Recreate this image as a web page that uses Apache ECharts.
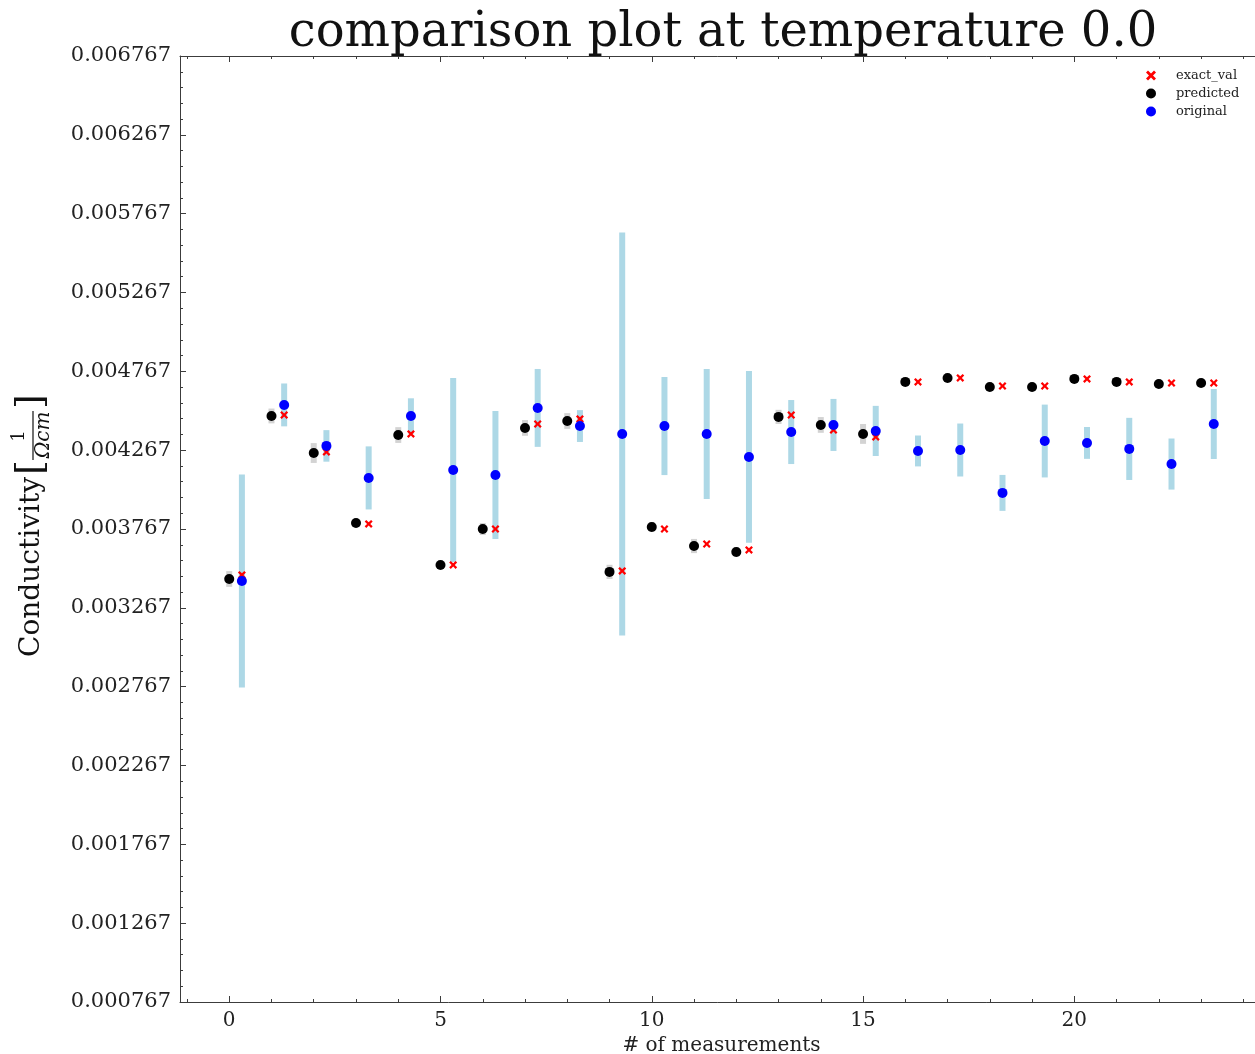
<!DOCTYPE html>
<html>
<head>
<meta charset="utf-8">
<script src="https://cdn.jsdelivr.net/npm/echarts@6/dist/echarts.min.js"></script>
<style>
  html, body { margin: 0; padding: 0; background: #fff; overflow: hidden; }
  #chart { width: 1255px; height: 1054px; }
</style>
</head>
<body>
<div id="chart"></div>
<script>
// measurement index 0..23
const measurements = [0, 1, 2, 3, 4, 5, 6, 7, 8, 9, 10, 11, 12, 13, 14, 15, 16, 17, 18, 19, 20, 21, 22, 23]

const predicted = [0.003450, 0.004484, 0.004249, 0.003805, 0.004363, 0.003539, 0.003767, 0.004408,
  0.004452, 0.003495, 0.003780, 0.003659, 0.003621, 0.004478, 0.004427, 0.004370,
  0.004700, 0.004725, 0.004668, 0.004668, 0.004719, 0.004700, 0.004687, 0.004693]
const predictedErr = [0.000050, 0.000047, 0.000063, 0.000025, 0.000050, 0.000025, 0.000038, 0.000050,
  0.000050, 0.000045, 0.000030, 0.000045, 0.000030, 0.000045, 0.000050, 0.000063,
  0.000020, 0.000020, 0.000020, 0.000020, 0.000020, 0.000020, 0.000020, 0.000020]

const exactVal = [0.003476, 0.004490, 0.004256, 0.003799, 0.004370, 0.003539, 0.003767, 0.004433,
  0.004465, 0.003501, 0.003767, 0.003672, 0.003634, 0.004490, 0.004395, 0.004351,
  0.004700, 0.004725, 0.004674, 0.004674, 0.004719, 0.004700, 0.004693, 0.004693]

const original = [0.003437, 0.004554, 0.004294, 0.004091, 0.004484, 0.004141, 0.004110, 0.004535,
  0.004420, 0.004370, 0.004420, 0.004370, 0.004224, 0.004382, 0.004427, 0.004389,
  0.004262, 0.004268, 0.003996, 0.004325, 0.004313, 0.004275, 0.004179, 0.004433]
const originalErr = [0.000676, 0.000136, 0.000100, 0.000200, 0.000112, 0.000584, 0.000406, 0.000247,
  0.000101, 0.001278, 0.000311, 0.000412, 0.000545, 0.000203, 0.000165, 0.000159,
  0.000098, 0.000168, 0.000114, 0.000231, 0.000101, 0.000197, 0.000162, 0.000222]

const xMajorTicks = [0, 5, 10, 15, 20]
const xMinorTicks = [-1, 1, 2, 3, 4, 6, 7, 8, 9, 11, 12, 13, 14, 16, 17, 18, 19, 21, 22, 23, 24]

const SHIFT = 0.3   // original / exact_val are drawn a bit right of predicted
const FONT = 'DejaVu Serif'
const AXIS_COLOR = '#3c3c3c'

const chart = echarts.init(document.getElementById('chart'))

function errBar(color, width) {
  return function (params, api) {
    const x = api.value(0)
    const top = api.coord([x, api.value(2)])
    const bottom = api.coord([x, api.value(1)])
    return {
      type: 'rect',
      shape: { x: top[0] - width / 2, y: top[1], width: width, height: bottom[1] - top[1] },
      style: { fill: color },
    }
  }
}

const predBars = measurements.map((m, i) => [m, predicted[i] - predictedErr[i], predicted[i] + predictedErr[i]])
const origBars = measurements.map((m, i) => [m + SHIFT, original[i] - originalErr[i], original[i] + originalErr[i]])

const crossPath = 'path://M2,0L5,3L8,0L10,2L7,5L10,8L8,10L5,7L2,10L0,8L3,5L0,2Z'

function xAxisBase(pos, ticks, len, line) {
  return {
    type: 'value',
    position: pos,
    min: -1.165,
    max: 24.465,
    axisLine: { show: line, onZero: false, lineStyle: { color: AXIS_COLOR, width: 1 } },
    axisTick: { show: true, inside: true, length: len, customValues: ticks, lineStyle: { color: AXIS_COLOR } },
    axisLabel: { show: false },
    splitLine: { show: false },
  }
}

const xBottom = xAxisBase('bottom', xMajorTicks, 6, true)
xBottom.axisLabel = {
  show: true,
  customValues: xMajorTicks,
  margin: 9,
  color: '#222',
  fontFamily: FONT,
  fontSize: 20,
}
xBottom.name = '# of measurements'
xBottom.nameLocation = 'middle'
xBottom.nameGap = 31
xBottom.nameTextStyle = { fontFamily: FONT, fontSize: 20, color: '#222' }

chart.setOption({
  backgroundColor: '#fff',
  animation: false,
  title: {
    text: 'comparison plot at temperature 0.0',
    left: 718,
    top: 5,
    textAlign: 'center',
    textStyle: { fontFamily: FONT, fontSize: 48, fontWeight: 'normal', color: '#111' },
  },
  grid: { left: 180, top: 56, width: 1083, height: 946, containLabel: false, outerBoundsMode: 'none' },
  legend: {
    orient: 'vertical',
    left: 1141,
    top: 64,
    itemWidth: 40,
    itemHeight: 10,
    itemGap: 5,
    data: ['exact_val', 'predicted', 'original'],
    textStyle: { fontFamily: FONT, fontSize: 13, color: '#222', lineHeight: 13 },
  },
  xAxis: [
    xBottom,
    xAxisBase('bottom', xMinorTicks, 3, false),
    xAxisBase('top', xMajorTicks, 6, true),
    xAxisBase('top', xMinorTicks, 3, false),
  ],
  yAxis: {
    type: 'value',
    min: 0.000767,
    max: 0.006767,
    interval: 0.0005,
    axisLine: { show: true, onZero: false, lineStyle: { color: AXIS_COLOR, width: 1 } },
    axisTick: { show: true, inside: true, length: 6, lineStyle: { color: AXIS_COLOR } },
    minorTick: { show: true, splitNumber: 5, length: 3, lineStyle: { color: AXIS_COLOR } },
    axisLabel: {
      margin: 9,
      color: '#222',
      fontFamily: FONT,
      fontSize: 21,
      formatter: (v) => v.toFixed(6),
    },
    splitLine: { show: false },
  },
  graphic: [
    {
      type: 'group',
      x: 32,
      y: 657,
      rotation: Math.PI / 2,
      children: [
        { type: 'text', x: 0, y: 0, style: { text: 'Conductivity', font: '28px "DejaVu Serif"', fill: '#111', verticalAlign: 'middle' } },
        { type: 'text', x: 182, y: 0, style: { text: '[', font: '38px "DejaVu Serif"', fill: '#111', verticalAlign: 'middle' } },
        { type: 'text', x: 221, y: -13, style: { text: '1', font: '18px "DejaVu Serif"', fill: '#111', align: 'center', verticalAlign: 'middle' } },
        { type: 'line', shape: { x1: 197, y1: 1, x2: 246, y2: 1 }, style: { stroke: '#111', lineWidth: 1.2 } },
        { type: 'text', x: 222, y: 12, style: { text: 'Ωcm', font: 'italic 20px "DejaVu Serif"', fill: '#111', align: 'center', verticalAlign: 'middle' } },
        { type: 'text', x: 248, y: 0, style: { text: ']', font: '38px "DejaVu Serif"', fill: '#111', verticalAlign: 'middle' } },
      ],
    },
  ],
  series: [
    {
      name: 'exact_val',
      type: 'scatter',
      symbol: crossPath,
      symbolSize: 8,
      itemStyle: { color: '#ff0000', opacity: 1 },
      data: measurements.map((m, i) => [m + SHIFT, exactVal[i]]),
    },
    {
      name: 'predicted-err',
      type: 'custom',
      renderItem: errBar('#d3d3d3', 6),
      encode: { x: 0, y: [1, 2] },
      data: predBars,
    },
    {
      name: 'predicted',
      type: 'scatter',
      symbol: 'circle',
      symbolSize: 10,
      itemStyle: { color: '#000', opacity: 1 },
      data: measurements.map((m, i) => [m, predicted[i]]),
    },
    {
      name: 'original-err',
      type: 'custom',
      renderItem: errBar('#add8e6', 6),
      encode: { x: 0, y: [1, 2] },
      data: origBars,
    },
    {
      name: 'original',
      type: 'scatter',
      symbol: 'circle',
      symbolSize: 10,
      itemStyle: { color: '#0000ff', opacity: 1 },
      data: measurements.map((m, i) => [m + SHIFT, original[i]]),
    },
  ],
})
</script>
</body>
</html>
